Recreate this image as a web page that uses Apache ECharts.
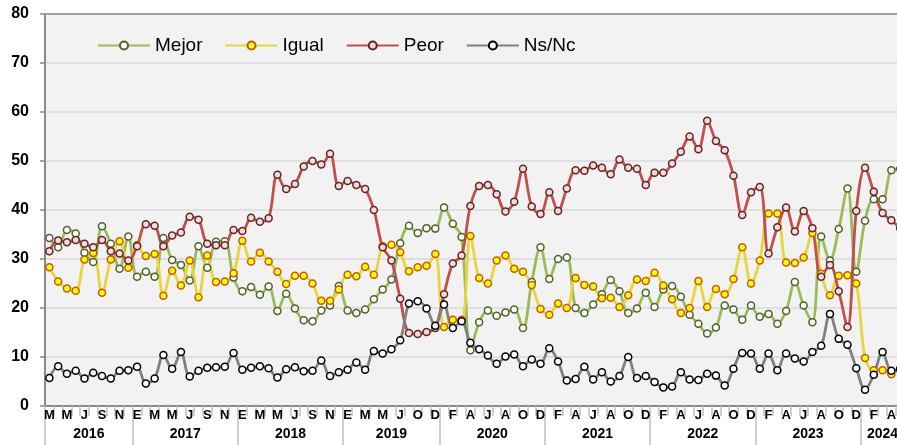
<!DOCTYPE html>
<html>
<head>
<meta charset="utf-8">
<script src="https://cdn.jsdelivr.net/npm/echarts@6/dist/echarts.min.js"></script>
<style>
html,body{margin:0;padding:0;background:#fff;}
#chart{width:897px;height:445px;}
</style>
</head>
<body>
<div id="chart"></div>
<script>
const categories = [
 '2016-03','2016-04','2016-05','2016-06','2016-07','2016-08','2016-09','2016-10','2016-11','2016-12',
 '2017-01','2017-02','2017-03','2017-04','2017-05','2017-06','2017-07','2017-08','2017-09','2017-10','2017-11','2017-12',
 '2018-01','2018-02','2018-03','2018-04','2018-05','2018-06','2018-07','2018-08','2018-09','2018-10','2018-11','2018-12',
 '2019-01','2019-02','2019-03','2019-04','2019-05','2019-06','2019-07','2019-09','2019-10','2019-11','2019-12',
 '2020-01','2020-02','2020-03','2020-04','2020-05','2020-06','2020-07','2020-08','2020-09','2020-10','2020-11','2020-12',
 '2021-01','2021-02','2021-03','2021-04','2021-05','2021-06','2021-07','2021-08','2021-09','2021-10','2021-11','2021-12',
 '2022-01','2022-02','2022-03','2022-04','2022-05','2022-06','2022-07','2022-08','2022-09','2022-10','2022-11','2022-12',
 '2023-01','2023-02','2023-03','2023-04','2023-05','2023-06','2023-07','2023-08','2023-09','2023-10','2023-11','2023-12',
 '2024-01','2024-02','2024-03','2024-04','2024-05'
];
const monthInitials = ['E','F','M','A','M','J','J','A','S','O','N','D'];
const yTicks = {min:0, max:80, interval:10};

const mejor = [
 34.3,32.4,35.9,35.2,31.3,29.4,36.7,33.1,28.0,34.6,
 26.4,27.4,26.4,34.3,29.8,28.8,25.6,32.6,28.2,33.5,33.6,26.2,
 23.4,24.3,22.7,24.4,19.4,22.9,19.9,17.5,17.3,19.5,20.5,24.5,
 19.5,19.0,19.7,21.8,23.8,25.8,33.2,36.8,35.3,36.3,36.2,
 40.5,37.2,34.5,11.4,17.1,19.5,18.4,19.1,19.7,15.9,25.3,32.4,
 25.9,30.0,30.3,20.0,19.0,20.7,22.8,25.7,23.4,19.0,19.9,23.1,
 20.2,23.8,24.5,22.3,18.6,16.8,14.8,16.0,20.5,19.7,17.6,20.5,
 18.2,18.8,16.8,19.4,25.3,20.5,17.1,34.6,29.7,36.1,44.4,27.4,
 37.8,42.2,42.2,48.1,48.4
];
const igual = [
 28.3,25.4,24.0,23.5,29.9,31.2,23.1,29.9,33.6,28.2,
 32.8,30.6,31.0,22.5,27.6,24.6,29.7,22.2,30.7,25.3,25.4,27.1,
 33.7,29.5,31.3,29.5,27.4,24.9,26.6,26.6,25.0,21.5,21.5,23.8,
 26.8,26.5,28.4,26.8,32.6,32.9,31.4,27.5,28.3,28.6,31.0,
 16.1,17.6,17.6,34.7,26.1,25.0,29.7,30.7,28.0,27.4,24.7,19.8,
 18.6,20.9,20.0,26.1,24.7,24.4,22.0,22.1,20.2,22.6,25.8,25.5,
 27.2,24.6,21.8,19.0,20.0,25.5,20.2,23.9,22.8,25.9,32.4,25.0,
 29.7,39.3,39.3,29.3,29.2,30.3,35.3,27.0,22.6,26.6,26.7,25.0,
 9.8,7.3,7.3,6.5,7.6
];
const peor = [
 31.6,33.8,33.4,33.9,33.1,32.4,33.9,31.6,31.1,29.7,
 32.6,37.1,36.8,32.6,34.8,35.4,38.6,38.0,33.1,32.8,32.8,35.9,
 35.7,38.4,37.6,38.3,47.2,44.3,45.3,48.9,50.0,49.3,51.5,44.9,
 45.9,45.1,44.3,40.0,32.4,29.7,21.9,14.9,14.7,15.1,15.9,
 22.8,29.1,30.7,40.8,44.9,45.1,43.2,39.7,41.7,48.4,40.7,39.2,
 43.6,39.8,44.4,48.1,48.0,49.1,48.6,47.3,50.3,48.6,48.4,45.1,
 47.6,47.6,49.5,51.9,55.0,52.4,58.2,54.1,52.2,47.0,39.0,43.6,
 44.7,31.1,36.5,40.5,35.6,39.8,36.3,26.4,28.8,23.4,16.1,39.8,
 48.6,43.7,39.4,37.9,36.3
];
const nsnc = [
 5.7,8.1,6.6,7.2,5.6,6.8,6.1,5.6,7.2,7.3,
 8.0,4.6,5.6,10.4,7.6,11.0,6.0,7.2,7.8,7.9,8.0,10.8,
 7.4,7.8,8.1,7.7,5.8,7.5,7.9,7.1,7.2,9.3,6.1,6.9,
 7.4,8.9,7.4,11.2,10.7,11.6,13.4,20.9,21.4,19.9,16.4,
 20.7,15.9,17.3,12.9,11.6,10.3,8.6,10.1,10.5,8.1,9.5,8.6,
 11.8,9.1,5.2,5.5,8.0,5.4,6.9,5.0,6.1,10.0,5.7,6.1,
 4.9,3.8,4.0,6.9,5.4,5.3,6.6,6.2,4.2,7.6,10.8,10.7,
 7.6,10.7,7.3,10.7,9.7,9.1,11.0,12.3,18.8,13.7,12.5,7.7,
 3.3,6.4,11.0,7.2,7.5
];

// year grouping derived from categories
const yearOf = c => c.slice(0,4);
const yearStart = new Set();
const yearLabel = {}; // index -> needs half-category shift
(function(){
  let s = 0;
  for (let i = 1; i <= categories.length; i++) {
    if (i === categories.length || yearOf(categories[i]) !== yearOf(categories[s])) {
      yearStart.add(s);
      const n = i - s;
      const mid = s + Math.floor((n - 1) / 2);
      yearLabel[mid] = (n % 2 === 0);
      s = i;
    }
  }
})();

const FONT = 'Liberation Sans';
const chart = echarts.init(document.getElementById('chart'), null, {renderer:'canvas'});

function lineSeries(name, data, lineColor, fill, border) {
  return {
    name, type:'line', data, smooth:0.35, symbol:'circle', symbolSize:7,
    showAllSymbol:true, xAxisIndex:0, yAxisIndex:0,
    lineStyle:{color:lineColor, width:2.8},
    itemStyle:{color:fill, borderColor:border, borderWidth:1.5},
    emphasis:{disabled:true}
  };
}

const catW = 8.77;
chart.setOption({
  animation:false,
  backgroundColor:'#ffffff',
  textStyle:{fontFamily:FONT},
  grid:{left:45, right:-7.5, top:14, bottom:39, show:true, backgroundColor:'#f2f2f2', borderWidth:0, containLabel:false, outerBoundsMode:'none'},
  legend:{
    top:31, left:92, itemWidth:52, itemHeight:10, itemGap:22,
    textStyle:{fontSize:19, color:'#000', fontFamily:FONT},
    data:['Mejor','Igual','Peor','Ns/Nc']
  },
  xAxis:[
    {
      type:'category', data:categories, position:'bottom', boundaryGap:true,
      axisLine:{onZero:false, lineStyle:{color:'#898989', width:2}},
      axisTick:{show:true, interval:0, length:10, lineStyle:{color:'#bfbfbf', width:1.5}},
      axisLabel:{interval:1, margin:3, fontSize:13, fontWeight:'bold', color:'#000', fontFamily:FONT,
        formatter:v => monthInitials[parseInt(v.slice(5),10)-1]},
      splitLine:{show:false}
    },
    {
      type:'category', data:categories, position:'bottom', boundaryGap:true,
      axisLine:{show:false, onZero:false},
      axisTick:{show:true, interval:(i)=>yearStart.has(i), length:42, lineStyle:{color:'#bfbfbf', width:1.5}},
      axisLabel:{interval:(i)=>(i in yearLabel), margin:21, fontSize:14, fontWeight:'bold', color:'#000', fontFamily:FONT,
        formatter:(v, i)=> yearLabel[i] ? '{s|' + yearOf(v) + '}' : '{n|' + yearOf(v) + '}',
        rich:{s:{padding:[0,0,0,catW], fontSize:14, fontWeight:'bold', color:'#000', fontFamily:FONT},
              n:{fontSize:14, fontWeight:'bold', color:'#000', fontFamily:FONT}}},
      splitLine:{show:false}
    },
    {
      type:'category', data:categories, position:'top', boundaryGap:true,
      axisLine:{show:true, onZero:false, lineStyle:{color:'#a0a0a0', width:2}},
      axisTick:{show:false}, axisLabel:{show:false}, splitLine:{show:false}
    }
  ],
  yAxis:{
    type:'value', min:yTicks.min, max:yTicks.max, interval:yTicks.interval,
    axisLine:{show:true, onZero:false, lineStyle:{color:'#898989', width:2}},
    axisTick:{show:true, length:5, lineStyle:{color:'#898989', width:1.5}},
    axisLabel:{margin:16, fontSize:16, fontWeight:'bold', color:'#000', fontFamily:FONT},
    splitLine:{lineStyle:{color:'#d9d9d9', width:1.5}}
  },
  series:[
    lineSeries('Mejor', mejor, '#9bbb59', '#ffffff', '#4f6228'),
    lineSeries('Igual', igual, '#e6d63c', '#ffff00', '#c55a11'),
    lineSeries('Peor', peor, '#c0504d', '#f2dcdb', '#632523'),
    lineSeries('Ns/Nc', nsnc, '#808080', '#ffffff', '#000000')
  ]
});
</script>
</body>
</html>
